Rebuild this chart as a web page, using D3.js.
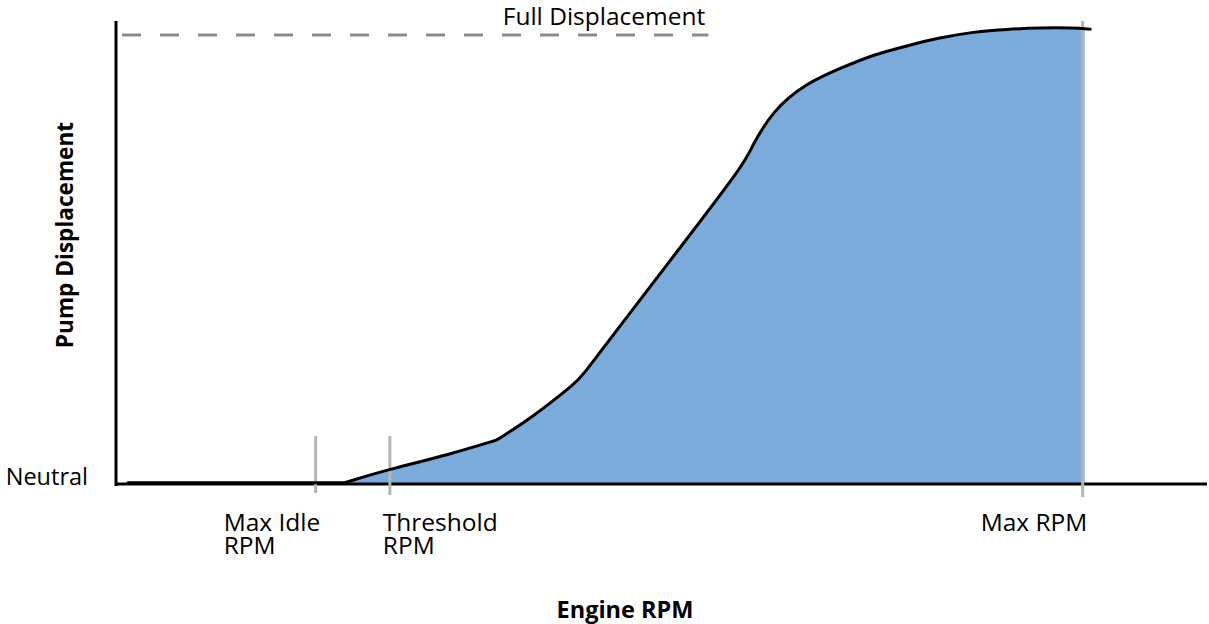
<!DOCTYPE html>
<html>
<head>
<meta charset="utf-8">
<script src="https://cdn.jsdelivr.net/npm/d3@7"></script>
<style>
  html, body { margin: 0; padding: 0; background: #fff; }
  svg { display: block; }
  text { font-family: "Open Sans", "Noto Sans", sans-serif; fill: #000; }
</style>
</head>
<body>
<svg id="chart" width="1209" height="624"></svg>
<script>
// ---- data (engine rpm as % of scale, displacement as % of full) ----
const rpm          = [1.1, 8.0, 15.0, 19.0, 20.5, 21.0, 21.0, 23.0, 25.1, 30.6, 34.9, 34.9, 38.2, 42.1, 42.6, 45.9, 51.7, 57.7, 58.1, 60.2, 63.3, 66.4, 69.4, 72.5, 75.5, 78.6, 81.7, 84.7, 87.7, 89.3, 89.3];
const displacement = [0.3, 0.3, 0.3, 0.3, 0.3, 0.3, 0.3, 1.8, 3.3, 6.6, 9.8, 9.8, 14.9, 22.5, 23.6, 34.3, 52.6, 71.7, 74.4, 83.3, 89.3, 92.6, 95.6, 97.6, 99.4, 100.7, 101.3, 101.6, 101.6, 101.3, 101.3];
const markerNames  = [["Max Idle", "RPM"], ["Threshold", "RPM"], ["Max RPM"]];
const markerRpm    = [18.3, 25.1, 88.6];
const fullDisplacement = 100;
const fullLabel = "Full Displacement";
const neutralLabel = "Neutral";
const xTitle = "Engine RPM";
const yTitle = "Pump Displacement";

const svg = d3.select("#chart");
const x = d3.scaleLinear().domain([0, 100]).range([116, 1207]);
const y = d3.scaleLinear().domain([0, 100]).range([484, 35]);

const pts = rpm.map((r, i) => ({ r, d: displacement[i] }));
const maxRpm = markerRpm[2];

// clip for area (up to Max RPM)
svg.append("defs").append("clipPath").attr("id", "clipArea")
  .append("rect")
  .attr("x", x(0)).attr("y", 0)
  .attr("width", x(maxRpm) - x(0) + 2).attr("height", y(0));

const curve = d3.curveBasis;
const area = d3.area().x(d => x(d.r)).y0(y(0)).y1(d => y(d.d)).curve(curve);
svg.append("path").datum(pts)
  .attr("clip-path", "url(#clipArea)")
  .attr("d", area)
  .attr("fill", "#7babdb");

// full displacement dashed line
svg.append("line")
  .attr("x1", x(0.55)).attr("x2", x(54.3))
  .attr("y1", y(fullDisplacement)).attr("y2", y(fullDisplacement))
  .attr("stroke", "#8c8c8c").attr("stroke-width", 3)
  .attr("stroke-dasharray", "19,19");

svg.append("text")
  .attr("x", 604).attr("y", 25)
  .attr("text-anchor", "middle")
  .attr("font-size", 24.5)
  .text(fullLabel);

// axes
svg.append("line")
  .attr("x1", x(0)).attr("x2", x(0))
  .attr("y1", 21).attr("y2", y(0) + 2)
  .attr("stroke", "#000").attr("stroke-width", 3);
svg.append("line")
  .attr("x1", x(0)).attr("x2", x(100))
  .attr("y1", y(0)).attr("y2", y(0))
  .attr("stroke", "#000").attr("stroke-width", 3);

// marker lines
const markerTop = [y(0) - 48, y(0) - 48, 21];
const markerBot = [y(0) + 9, y(0) + 11, y(0) + 13];
markerRpm.forEach((m, i) => {
  svg.append("line")
    .attr("x1", x(m)).attr("x2", x(m))
    .attr("y1", markerTop[i]).attr("y2", markerBot[i])
    .attr("stroke", "#b5b5b5").attr("stroke-width", 3);
});

// curve
const line = d3.line().x(d => x(d.r)).y(d => y(d.d)).curve(curve);
svg.append("path").datum(pts)
  .attr("d", line)
  .attr("fill", "none")
  .attr("stroke", "#000")
  .attr("stroke-width", 3)
  .attr("stroke-linejoin", "round")
  .attr("stroke-linecap", "round");

// marker labels
const labelX = [x(markerRpm[0]) - 92, x(markerRpm[1]) - 7, x(markerRpm[2]) - 102];
markerNames.forEach((lines, i) => {
  const t = svg.append("text").attr("font-size", 24.5);
  lines.forEach((s, j) => {
    t.append("tspan").attr("x", labelX[i]).attr("y", 531 + j * 23).text(s);
  });
});

// neutral label
svg.append("text")
  .attr("x", 88).attr("y", 485)
  .attr("text-anchor", "end")
  .attr("font-size", 23.5)
  .text(neutralLabel);

// axis titles
svg.append("text")
  .attr("x", 625).attr("y", 618)
  .attr("text-anchor", "middle")
  .attr("font-size", 23.5).attr("font-weight", "bold")
  .text(xTitle);

svg.append("text")
  .attr("transform", "translate(73,235) rotate(-90)")
  .attr("text-anchor", "middle")
  .attr("font-size", 22.6).attr("font-weight", "bold")
  .text(yTitle);
</script>
</body>
</html>
